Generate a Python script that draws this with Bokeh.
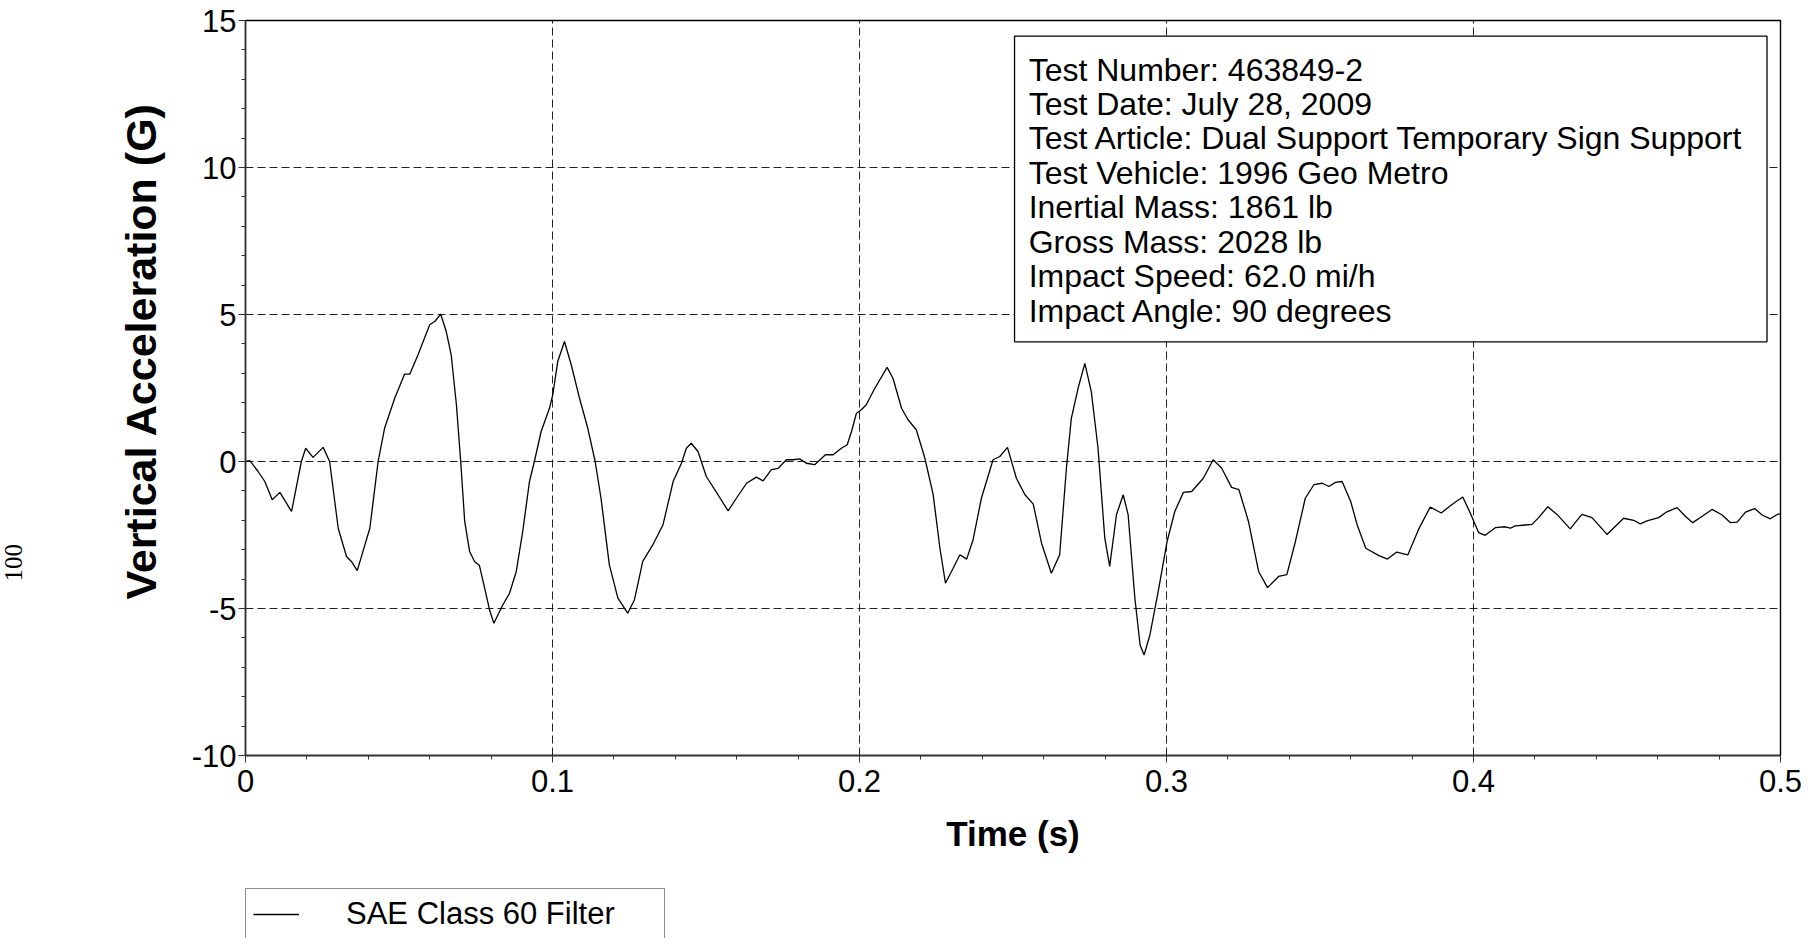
import math
from bokeh.plotting import figure
from bokeh.layouts import column
from bokeh.models import (FixedTicker, CustomJSTickFormatter, Label, BoxAnnotation,
                          Legend, LegendItem, Range1d, Title)
from bokeh.embed import file_html
from bokeh.resources import INLINE

# ---------------- data ----------------
time_s = [
    0.0000, 0.0014, 0.0041, 0.0063, 0.0087, 0.0112, 0.0150, 0.0182, 0.0196, 0.0220,
    0.0253, 0.0274, 0.0302, 0.0329, 0.0345, 0.0364, 0.0405, 0.0432, 0.0453, 0.0486,
    0.0518, 0.0535, 0.0562, 0.0600, 0.0618, 0.0636, 0.0654, 0.0670, 0.0687, 0.0701,
    0.0714, 0.0730, 0.0746, 0.0762, 0.0779, 0.0795, 0.0809, 0.0822, 0.0838, 0.0860,
    0.0882, 0.0903, 0.0925, 0.0941, 0.0963, 0.0990, 0.1001, 0.1017, 0.1039, 0.1061,
    0.1088, 0.1115, 0.1139, 0.1158, 0.1185, 0.1213, 0.1245, 0.1267, 0.1294, 0.1327,
    0.1360, 0.1393, 0.1420, 0.1436, 0.1452, 0.1474, 0.1501, 0.1539, 0.1572, 0.1599,
    0.1632, 0.1664, 0.1686, 0.1713, 0.1735, 0.1762, 0.1783, 0.1805, 0.1827, 0.1854,
    0.1889, 0.1914, 0.1941, 0.1960, 0.1974, 0.1990, 0.2006, 0.2022, 0.2050, 0.2090,
    0.2109, 0.2137, 0.2158, 0.2185, 0.2213, 0.2240, 0.2262, 0.2280, 0.2305, 0.2327,
    0.2349, 0.2370, 0.2397, 0.2435, 0.2457, 0.2482, 0.2511, 0.2539, 0.2566, 0.2593,
    0.2625, 0.2652, 0.2674, 0.2690, 0.2712, 0.2734, 0.2755, 0.2777, 0.2799, 0.2815,
    0.2837, 0.2859, 0.2875, 0.2897, 0.2914, 0.2927, 0.2946, 0.2973, 0.3002, 0.3027,
    0.3055, 0.3082, 0.3120, 0.3152, 0.3180, 0.3212, 0.3236, 0.3267, 0.3300, 0.3329,
    0.3365, 0.3392, 0.3420, 0.3452, 0.3480, 0.3507, 0.3529, 0.3550, 0.3572, 0.3600,
    0.3621, 0.3649, 0.3692, 0.3720, 0.3750, 0.3786, 0.3821, 0.3859, 0.3895, 0.3930,
    0.3965, 0.3989, 0.4017, 0.4038, 0.4071, 0.4103, 0.4120, 0.4136, 0.4169, 0.4191,
    0.4212, 0.4242, 0.4272, 0.4315, 0.4353, 0.4386, 0.4435, 0.4489, 0.4522, 0.4543,
    0.4565, 0.4603, 0.4630, 0.4663, 0.4690, 0.4714, 0.4745, 0.4777, 0.4810, 0.4837,
    0.4859, 0.4886, 0.4916, 0.4940, 0.4967, 0.4989, 0.5000,
]
accel_g = [
    0.00, 0.03, -0.34, -0.68, -1.30, -1.05, -1.70, 0.00, 0.45, 0.14,
    0.48, 0.00, -2.27, -3.23, -3.40, -3.71, -2.27, 0.00, 1.13, 2.15,
    2.97, 2.97, 3.63, 4.65, 4.78, 5.01, 4.42, 3.63, 1.93, 0.00,
    -2.04, -3.06, -3.40, -3.54, -4.31, -5.05, -5.50, -5.22, -4.88, -4.48,
    -3.74, -2.38, -0.68, 0.00, 1.02, 1.81, 2.27, 3.40, 4.08, 3.29,
    2.15, 1.13, 0.00, -1.25, -3.51, -4.65, -5.16, -4.70, -3.40, -2.83,
    -2.15, -0.68, -0.06, 0.45, 0.62, 0.34, -0.51, -1.13, -1.68, -1.25,
    -0.74, -0.53, -0.66, -0.28, -0.23, 0.06, 0.06, 0.09, -0.06, -0.11,
    0.23, 0.23, 0.45, 0.57, 1.02, 1.64, 1.76, 1.93, 2.49, 3.20,
    2.83, 1.81, 1.42, 1.08, 0.11, -1.13, -2.95, -4.14, -3.63, -3.17,
    -3.32, -2.66, -1.25, 0.06, 0.17, 0.48, -0.57, -1.13, -1.45, -2.78,
    -3.80, -3.17, -0.23, 1.47, 2.49, 3.34, 2.38, 0.45, -2.61, -3.57,
    -1.81, -1.13, -1.81, -4.65, -6.24, -6.58, -5.90, -4.42, -2.72, -1.70,
    -1.05, -1.02, -0.57, 0.06, -0.23, -0.88, -0.96, -2.04, -3.74, -4.29,
    -3.91, -3.85, -2.72, -1.25, -0.79, -0.74, -0.85, -0.71, -0.68, -1.36,
    -2.15, -2.95, -3.20, -3.32, -3.08, -3.18, -2.31, -1.55, -1.75, -1.46,
    -1.21, -1.74, -2.42, -2.51, -2.25, -2.22, -2.27, -2.19, -2.16, -2.14,
    -1.91, -1.54, -1.80, -2.29, -1.80, -1.91, -2.48, -1.93, -2.00, -2.12,
    -2.02, -1.91, -1.71, -1.57, -1.86, -2.08, -1.86, -1.63, -1.82, -2.08,
    -2.06, -1.72, -1.60, -1.82, -1.95, -1.80, -1.78,
]

x_ticks = [0, 0.1, 0.2, 0.3, 0.4, 0.5]
y_ticks = [-10, -5, 0, 5, 10, 15]
x_title = "Time (s)"
y_title = "Vertical Acceleration (G)"
series_name = "SAE Class 60 Filter"
page_note = "100"
info_lines = [
    "Test Number: 463849-2",
    "Test Date: July 28, 2009",
    "Test Article: Dual Support Temporary Sign Support",
    "Test Vehicle: 1996 Geo Metro",
    "Inertial Mass: 1861 lb",
    "Gross Mass: 2028 lb",
    "Impact Speed: 62.0 mi/h",
    "Impact Angle: 90 degrees",
]

FONT = "Liberation Sans"

p = figure(frame_width=1535, frame_height=735,
           min_border_left=245, min_border_right=30,
           min_border_top=20, min_border_bottom=125,
           x_range=Range1d(0, 0.5), y_range=Range1d(-10, 15),
           output_backend="svg", toolbar_location=None,
           background_fill_color="white", border_fill_color="white")

p.outline_line_color = "black"
p.outline_line_width = 1.4

minor_x = [round(i * 0.02, 2) for i in range(26)]
minor_y = list(range(-10, 16))
p.xaxis.ticker = FixedTicker(ticks=x_ticks, minor_ticks=minor_x)
p.yaxis.ticker = FixedTicker(ticks=y_ticks, minor_ticks=minor_y)
fmt = CustomJSTickFormatter(code="return String(Math.round(tick*1000)/1000);")
p.xaxis.formatter = fmt
p.yaxis.formatter = fmt

for ax in (p.xaxis, p.yaxis):
    ax.axis_line_color = "#333333"
    ax.axis_line_width = 1.5
    ax.major_tick_line_color = "#333333"
    ax.minor_tick_line_color = "#333333"
    ax.major_tick_out = 7
    ax.major_tick_in = 0
    ax.minor_tick_out = 4
    ax.minor_tick_in = 0
    ax.major_label_text_font = FONT
    ax.major_label_text_font_size = "31px"
    ax.major_label_text_color = "black"

p.xaxis.major_label_standoff = 7
p.yaxis.major_label_standoff = 2
p.xaxis.axis_label = x_title
p.xaxis.axis_label_text_font = FONT
p.xaxis.axis_label_text_font_style = "bold"
p.xaxis.axis_label_text_font_size = "35px"
p.xaxis.axis_label_text_color = "black"
p.xaxis.axis_label_standoff = 19

p.grid.grid_line_color = "#222222"
p.grid.grid_line_dash = "8 4"
p.grid.grid_line_width = 1

r = p.line(time_s, accel_g, line_color="black", line_width=1.3)

# y title, spacer and page number in the left panel
p.add_layout(Title(text=y_title, align="right", offset=82, vertical_align="middle",
                   standoff=46, text_font=FONT, text_font_style="bold",
                   text_font_size="43px", text_color="black"), "left")
p.add_layout(Title(text=" ", standoff=67, text_font=FONT,
                   text_font_size="1px", text_color="white"), "left")
p.add_layout(Title(text=page_note, align="left", offset=174, vertical_align="middle",
                   standoff=0, text_font="Liberation Serif", text_font_style="normal",
                   text_font_size="25px", text_color="black"), "left")

# info box
p.add_layout(BoxAnnotation(left=0.2505, right=0.4956, bottom=4.07, top=14.47,
                           fill_color="white", fill_alpha=1.0,
                           line_color="black", line_width=1.3, line_alpha=1.0))
for i, line in enumerate(info_lines):
    yy = (460.3 - (68.3 + 34.45 * i)) / 29.4
    p.add_layout(Label(x=0.2551, y=yy, text=line, text_align="left",
                       text_baseline="middle", text_font=FONT,
                       text_font_size="32px", text_color="black"))

# ---------------- legend strip under the plot ----------------
lf = figure(width=1810, height=58, min_border=0,
            x_range=Range1d(10, 11), y_range=Range1d(10, 11),
            x_axis_type=None, y_axis_type=None,
            output_backend="svg", toolbar_location=None,
            background_fill_color="white", border_fill_color="white")
lf.outline_line_color = None
lr = lf.line(time_s, accel_g, line_color="black", line_width=1.3)
legend = Legend(items=[LegendItem(label=series_name, renderers=[lr])],
                location=(0, -2), orientation="vertical",
                border_line_color="#222222", border_line_width=1.3,
                background_fill_color="white", background_fill_alpha=1.0,
                label_text_font=FONT, label_text_font_size="31px",
                label_text_color="black",
                glyph_width=46, glyph_height=36, label_height=36,
                label_standoff=47, label_width=311, padding=7, margin=0,
                spacing=0)
lf.add_layout(legend)

layout = column(p, lf, spacing=0)
open("out.html", "w").write(file_html(layout, INLINE))
